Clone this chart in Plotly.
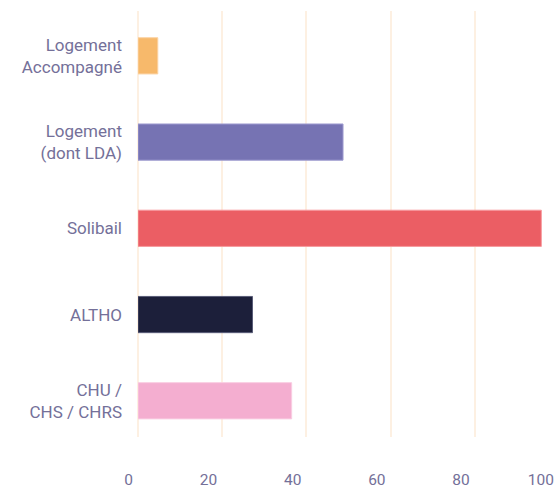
import plotly.graph_objects as go

categories = ["Logement<br>Accompagné", "Logement<br>(dont LDA)", "Solibail", "ALTHO", "CHU /<br>CHS / CHRS"]
values = [4.7, 48.7, 95.8, 27.2, 36.5]
colors = ["#f7b96b", "#7673b3", "#eb5e64", "#1c1f3a", "#f4aed0"]
edge_colors = ["#fbd3a3", "#9f9cd0", "#f79a9e", "#5a5d78", "#f9cde2"]
tick_vals = [0, 20, 40, 60, 80, 100]
tick_text = ["0", "20", "40", "60", "80", "100"]

label_color = "#747099"
grid_color = "#fdf0e2"

fig = go.Figure(go.Bar(
    x=values,
    y=categories,
    orientation="h",
    width=0.42,
    marker=dict(color=colors, line=dict(color=edge_colors, width=1)),
    hoverinfo="skip",
))

fig.update_layout(
    width=559,
    height=488,
    margin=dict(l=138, r=0, t=11, b=51),
    paper_bgcolor="white",
    plot_bgcolor="white",
    showlegend=False,
    font=dict(family="Roboto", size=17, color=label_color),
    xaxis=dict(
        range=[0, 100],
        tickvals=tick_vals,
        ticktext=tick_text,
        showgrid=True,
        gridcolor=grid_color,
        gridwidth=2,
        zeroline=True,
        zerolinecolor=grid_color,
        zerolinewidth=2,
        showline=False,
        ticks="",
        automargin=False,
        ticklabelposition="outside left",
        ticklabelshift=-5,
        ticklabelstandoff=31,
        tickfont=dict(family="Roboto", size=15.5, color=label_color),
    ),
    yaxis=dict(
        categoryorder="array",
        categoryarray=categories,
        range=[4.42, -0.52],
        showgrid=False,
        zeroline=False,
        showline=False,
        ticks="",
        automargin=False,
        ticklabelstandoff=15,
        tickfont=dict(family="Roboto", size=17, color=label_color),
    ),
)

fig.write_html(
    "out.html",
    config={"displayModeBar": False},
    post_script="document.body.style.margin='0';document.body.style.overflow='hidden';",
)
